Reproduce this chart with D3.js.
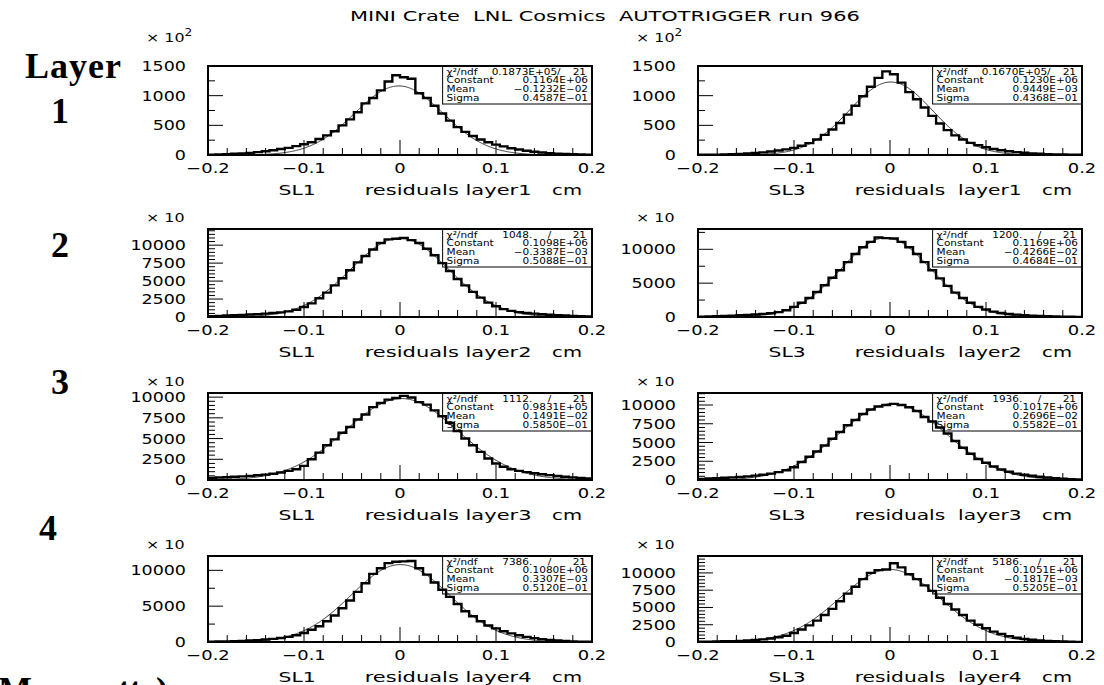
<!DOCTYPE html>
<html><head><meta charset="utf-8">
<script src="https://cdn.jsdelivr.net/npm/d3@7"></script>
<style>body{margin:0;background:#fff}svg{display:block}</style>
</head><body><svg id="c" width="1104" height="685"></svg>
<script>
// ---------------- data ----------------
const title = "MINI Crate  LNL Cosmics  AUTOTRIGGER run 966";
const superLayers = ["SL1", "SL3"];
const layerNames = ["layer1", "layer2", "layer3", "layer4"];
const rowLabels = ["1", "2", "3", "4"];
const exponentBase = ["× 10", "× 10", "× 10", "× 10"];
const exponentPow = ["2", "", "", ""];
const xTickValues = [-0.2, -0.1, 0, 0.1, 0.2];
const xTickLabels = ["−0.2", "−0.1", "0", "0.1", "0.2"];
const xMinorTicks = [-0.18,-0.16,-0.14,-0.12,-0.08,-0.06,-0.04,-0.02,0.02,0.04,0.06,0.08,0.12,0.14,0.16,0.18];
const nBins = 50;

// histogram contents (50 bins, -0.2 .. 0.2), panel order: row by row, SL1 then SL3
const h_SL1_L1 = [7,10,14,20,27,36,48,62,80,100, 120,150,180,215,270,330,400,500,600,720,
                  870,960,1090,1240,1345,1310,1285,1040,960,830, 700,580,470,390,320,260,215,175,145,115,
                  92,72,55,42,32,24,17,12,8,5];
const h_SL3_L1 = [3,5,7,10,13,18,25,33,44,58, 75,95,120,155,200,260,340,430,540,680,
                  830,990,1150,1300,1410,1360,1220,1060,940,800, 660,530,420,330,260,205,165,130,100,80,
                  62,48,37,28,21,15,11,8,5,3];
const h_SL1_L2 = [120,160,200,240,290,340,400,470,550,640, 780,1000,1400,1900,2600,3400,4400,5400,6500,7600,
                  8500,9400,10300,10800,10900,11000,10700,10300,9500,8600, 7500,6400,5300,4400,3500,2700,2000,1500,1100,850,
                  680,560,470,390,320,260,200,150,110,70];
const h_SL3_L2 = [60,90,120,160,200,250,310,380,460,560, 720,1000,1500,2100,2800,3700,4700,5800,6900,8100,
                  9300,10300,11100,11750,11650,11600,11100,10300,9300,8100, 6900,5700,4600,3600,2800,2100,1500,1100,800,600,
                  460,350,270,200,150,110,80,55,35,20];
const h_SL1_L3 = [250,300,340,390,440,500,570,650,760,900, 1100,1300,1700,2500,3300,4200,4900,5700,6400,7300,
                  7900,8800,9300,9700,9900,10150,9950,9400,9100,8400, 7700,6900,5900,5000,4200,3400,2600,2000,1600,1300,
                  1100,950,820,700,590,490,400,320,250,180];
const h_SL3_L3 = [150,200,250,300,350,420,490,580,700,850, 1050,1300,1700,2400,3100,3800,4600,5500,6400,7300,
                  8000,8800,9400,9800,10000,10150,10000,9700,9200,8400, 7800,7000,6200,5200,4300,3500,2800,2300,1800,1400,
                  1100,850,700,560,430,330,250,180,120,70];
const h_SL1_L4 = [40,60,80,110,150,200,260,340,440,560, 720,940,1250,1700,2200,2900,3700,4700,5800,7000,
                  8200,9500,10300,11000,11200,11250,11300,10300,9400,8300, 7300,6300,5300,4300,3600,2900,2300,1900,1500,1200,
                  950,720,540,400,290,200,140,90,50,25];
const h_SL3_L4 = [40,55,75,100,130,170,220,290,380,500, 680,900,1300,1800,2400,3100,3900,4800,5900,7000,
                  8000,9100,10000,10400,10500,11400,10800,9800,9100,8200, 7400,6400,5500,4700,3900,3100,2500,2000,1500,1150,
                  850,620,450,320,220,150,100,65,40,20];
const histograms = [h_SL1_L1, h_SL3_L1, h_SL1_L2, h_SL3_L2, h_SL1_L3, h_SL3_L3, h_SL1_L4, h_SL3_L4];

// gaussian fit parameters (constant in plotted units)
const fitConst = [1164, 1230, 10980, 11690, 9831, 10170, 10800, 10510];
const fitMean  = [-0.001232, 0.0009449, -0.0003387, -0.004266, 0.001491, 0.002696, 0.0003307, -0.0001817];
const fitSigma = [0.04587, 0.04368, 0.05088, 0.04684, 0.05850, 0.05582, 0.05120, 0.05205];

// stat box texts
const statChi   = ["0.1873E+05/", "0.1670E+05/", "1048.", "1200.", "1112.", "1936.", "7386.", "5186."];
const statConst = ["0.1164E+06", "0.1230E+06", "0.1098E+06", "0.1169E+06", "0.9831E+05", "0.1017E+06", "0.1080E+06", "0.1051E+06"];
const statMean  = ["−0.1232E−02", "0.9449E−03", "−0.3387E−03", "−0.4266E−02", "0.1491E−02", "0.2696E−02", "0.3307E−03", "−0.1817E−03"];
const statSigma = ["0.4587E−01", "0.4368E−01", "0.5088E−01", "0.4684E−01", "0.5850E−01", "0.5582E−01", "0.5120E−01", "0.5205E−01"];
const statNdf = "21";

// y axes
const yMax       = [1500, 1500, 12250, 13000, 10500, 11600, 12000, 12450];
const yLabelStep = [500, 500, 2500, 5000, 2500, 2500, 5000, 2500];
const yMinorStep = [250, 250, 500, 2500, 500, 500, 2500, 500];

// ---------------- layout ----------------
const svg = d3.select("#c");
const FONT = "'DejaVu Sans', Verdana, sans-serif";
const SERIF = "'Liberation Serif', 'Times New Roman', serif";
const cols = [{x0: 208, x1: 592}, {x0: 698, x1: 1082}];
const rows = [{y0: 66, y1: 155}, {y0: 229, y1: 317}, {y0: 393, y1: 480}, {y0: 556, y1: 642}];

// wide (horizontally stretched) text, like the plotting package's font
function wtext(parent, x, y, s, opt) {
  const o = Object.assign({size: 14, sx: 1.25, anchor: "start", family: FONT, weight: "normal", width: null}, opt || {});
  const t = parent.append("text")
    .attr("font-family", o.family).attr("font-size", o.size).attr("font-weight", o.weight)
    .attr("text-anchor", o.anchor).style("white-space", "pre").text(s);
  let sx = o.sx;
  if (o.width) sx = o.width / t.node().getComputedTextLength();
  t.attr("transform", `translate(${x},${y}) scale(${sx},1)`);
  return t;
}

svg.append("rect").attr("width", 1104).attr("height", 685).attr("fill", "#fff");

wtext(svg, 350, 21, title, {size: 14, width: 510});

// left side labels
svg.append("text").attr("x", 25).attr("y", 78).attr("font-family", SERIF)
  .attr("font-weight", "bold").attr("font-size", 36).attr("textLength", 96).text("Layer");
const rowLabelPos = [{x: 60, y: 123}, {x: 60, y: 257}, {x: 60, y: 394}, {x: 48, y: 540}];
rowLabels.forEach((t, i) => {
  svg.append("text").attr("x", rowLabelPos[i].x).attr("y", rowLabelPos[i].y)
    .attr("text-anchor", "middle").attr("font-family", SERIF)
    .attr("font-weight", "bold").attr("font-size", 36).text(t);
});
svg.append("text").attr("x", -2).attr("y", 702).attr("font-family", SERIF)
  .attr("font-weight", "bold").attr("font-size", 36).attr("textLength", 170).text("Monosuttc)");

histograms.forEach((vals, k) => {
  const r = Math.floor(k / 2), c = k % 2;
  const {x0, x1} = cols[c], {y0, y1} = rows[r];
  const w = x1 - x0;
  const x = d3.scaleLinear().domain([-0.2, 0.2]).range([x0, x1]);
  const y = d3.scaleLinear().domain([0, yMax[k]]).range([y1, y0]);
  const g = svg.append("g");

  // stat box
  const bx = x(0.0444), bw = x1 - bx, bh = 38;
  g.append("rect").attr("x", bx).attr("y", y0).attr("width", bw).attr("height", bh)
    .attr("fill", "#fff").attr("stroke", "#000").attr("stroke-width", 1);
  const st = (tx, ty, s, anchor) => wtext(g, tx, ty, s, {size: 8.6, sx: 1.22, anchor: anchor || "start"});
  const lines = [y0 + 8.5, y0 + 17.2, y0 + 25.9, y0 + 34.6];
  st(bx + 4, lines[0], "χ²/ndf");
  if (r === 0) {
    st(bx + bw * 0.79, lines[0], statChi[k], "end");
  } else {
    st(bx + bw * 0.60, lines[0], statChi[k], "end");
    st(bx + bw * 0.715, lines[0], "/", "middle");
  }
  st(bx + bw - 6, lines[0], statNdf, "end");
  st(bx + 4, lines[1], "Constant");
  st(bx + bw - 4, lines[1], statConst[k], "end");
  st(bx + 4, lines[2], "Mean");
  st(bx + bw - 4, lines[2], statMean[k], "end");
  st(bx + 4, lines[3], "Sigma");
  st(bx + bw - 4, lines[3], statSigma[k], "end");

  // fit curve
  const xs = d3.range(0, 401).map(i => -0.2 + i * 0.001);
  const gauss = xv => fitConst[k] * Math.exp(-0.5 * Math.pow((xv - fitMean[k]) / fitSigma[k], 2));
  g.append("path").datum(xs)
    .attr("d", d3.line().x(d => x(d)).y(d => y(gauss(d))))
    .attr("fill", "none").attr("stroke", "#222").attr("stroke-width", 0.9);

  // histogram outline
  const bw0 = 0.4 / nBins;
  const pts = [];
  vals.forEach((v, i) => { pts.push([-0.2 + i * bw0, v]); pts.push([-0.2 + (i + 1) * bw0, v]); });
  g.append("path").datum(pts)
    .attr("d", d3.line().x(d => x(d[0])).y(d => y(d[1])))
    .attr("fill", "none").attr("stroke", "#000").attr("stroke-width", 2.4).attr("stroke-linejoin", "miter");

  // x ticks
  xTickValues.forEach(t => g.append("line").attr("x1", x(t)).attr("x2", x(t))
    .attr("y1", y1).attr("y2", y1 - 15).attr("stroke", "#000").attr("stroke-width", 1));
  xMinorTicks.forEach(t => g.append("line").attr("x1", x(t)).attr("x2", x(t))
    .attr("y1", y1).attr("y2", y1 - 7).attr("stroke", "#000").attr("stroke-width", 1));
  xTickValues.forEach((t, i) => wtext(g, x(t), y1 + 18, xTickLabels[i], {size: 14, sx: 1.28, anchor: "middle"}));

  // y ticks
  const majors = d3.range(0, yMax[k] + 1, yLabelStep[k]);
  const minors = d3.range(0, yMax[k] + 1, yMinorStep[k]).filter(v => v % yLabelStep[k] !== 0);
  majors.forEach(t => {
    g.append("line").attr("x1", x0).attr("x2", x0 + 15).attr("y1", y(t)).attr("y2", y(t))
      .attr("stroke", "#000").attr("stroke-width", 1);
    wtext(g, x0 - 22, y(t) + 5, String(t), {size: 14, sx: 1.25, anchor: "end"});
  });
  minors.forEach(t => g.append("line").attr("x1", x0).attr("x2", x0 + 7).attr("y1", y(t)).attr("y2", y(t))
    .attr("stroke", "#000").attr("stroke-width", 1));

  // exponent
  const ex = wtext(g, x0 - 62, r === 0 ? y0 - 24 : y0 - 7, exponentBase[r], {size: 13, sx: 1.22});
  if (exponentPow[r]) ex.append("tspan").attr("dy", -6).attr("font-size", 10).text(exponentPow[r]);

  // frame
  g.append("rect").attr("x", x0).attr("y", y0).attr("width", w).attr("height", y1 - y0)
    .attr("fill", "none").attr("stroke", "#000").attr("stroke-width", 2);

  // x title
  const ty = y1 + 40;
  wtext(g, x0 + 0.232 * w, ty, superLayers[c], {size: 14, sx: 1.45, anchor: "middle"});
  wtext(g, x0 + 0.408 * w, ty, (c === 0 ? "residuals layer" : "residuals  layer") + rowLabels[r],
        {size: 14, width: 0.435 * w});
  wtext(g, x0 + 0.935 * w, ty, "cm", {size: 14, sx: 1.4, anchor: "middle"});
});
</script></body></html>
